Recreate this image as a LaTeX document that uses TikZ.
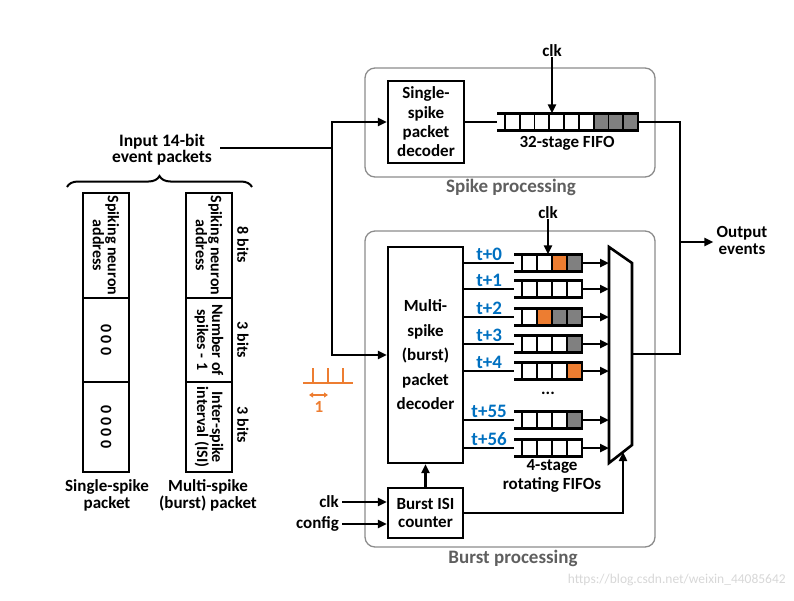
\documentclass[tikz,border=0pt]{standalone}
\usepackage{fontspec}
\setmainfont{Carlito}
\usetikzlibrary{arrows.meta,decorations.pathreplacing,calc}
\definecolor{myorange}{RGB}{237,125,49}
\definecolor{mygray}{RGB}{128,128,128}
\definecolor{myblue}{RGB}{0,112,192}
\definecolor{framegray}{RGB}{140,140,140}
\definecolor{labelgray}{RGB}{95,95,95}
\definecolor{wmgray}{RGB}{215,215,215}
\newcommand\fifo[7]{%
  \foreach \c [count=\i] in {#7}{\fill[\c] ({#3+(\i-1)*#4},{#6-8.5}) rectangle ++(#4,17);}
  \foreach \i in {0,...,#5}{\draw[line width=1.8pt] ({#3+\i*#4},{#6-8.5}) -- ++(0,17);}
  \draw[line width=2.4pt] (#2,{#6-8.5}) -- ({#3+#5*#4},{#6-8.5}) -- ({#3+#5*#4},{#6+8.5}) -- (#2,{#6+8.5});
  \node[inner sep=0pt, minimum height=17pt, minimum width={#3+#5*#4-#2}, anchor=west] (#1) at (#2,#6) {};
}
\begin{document}
\begin{tikzpicture}[x=1pt,y=-1pt,
  font=\fontsize{17}{19}\selectfont\bfseries,
  wire/.style={line width=2.4pt, black},
  arr/.style={wire, -{Triangle[length=9pt,width=8pt]}},
  blk/.style={draw, line width=2.4pt, inner sep=0pt, align=center},
  frame/.style={draw=framegray, line width=1.3pt, rounded corners=10pt, inner sep=0pt},
  lbl/.style={align=center, inner sep=0pt},
  tl/.style={text=myblue, font=\fontsize{19}{19}\selectfont\bfseries, inner sep=0pt, anchor=base},
  pk/.style={draw, line width=2.4pt, inner sep=0pt, rotate=-90, align=center, minimum height=46pt, font=\fontsize{16}{15}\selectfont\bfseries},
  bits/.style={rotate=-90, inner sep=0pt, font=\fontsize{16}{15}\selectfont\bfseries},
  ttl/.style={text=labelgray, font=\fontsize{19}{19}\selectfont\bfseries, inner sep=0pt}
]
\useasboundingbox (0,0) rectangle (794,600);

% frames
\node[frame, minimum width=290pt, minimum height=109pt] (spikeframe) at (510,122.5) {};
\node[frame, minimum width=290pt, minimum height=316pt] (burstframe) at (510,389) {};
\node[ttl] (spiketitle) at (511,187) {Spike processing};
\node[ttl] (bursttitle) at (513,558) {Burst processing};

% input and packets
\node[lbl, font=\fontsize{17.5}{16}\selectfont\bfseries] (input) at (162,150) {Input 14-bit\\event packets};
\draw[line width=2pt, decorate, decoration={brace, amplitude=11pt}] (67,187) -- (252,187);

\node[pk, minimum width=105pt] (s1) at (106,245.5) {Spiking neuron\\address};
\node[pk, minimum width=84pt] (s2) at (106,340) {0 0 0};
\node[pk, minimum width=90pt] (s3) at (106,427) {0 0 0 0};
\node[pk, minimum width=105pt] (b1) at (209,245.5) {Spiking neuron\\address};
\node[pk, minimum width=84pt] (b2) at (209,340) {Number of\\spikes - 1};
\node[pk, minimum width=90pt] (b3) at (209,427) {Inter-spike\\interval (ISI)};
\node[bits] (bits1) at (243,245) {8 bits};
\node[bits] (bits2) at (243,340) {3 bits};
\node[bits] (bits3) at (243,425) {3 bits};
\node[lbl, font=\fontsize{17}{17}\selectfont\bfseries] (slab) at (107,495) {Single-spike\\packet};
\node[lbl, font=\fontsize{17}{17}\selectfont\bfseries] (mlab) at (208,495) {Multi-spike\\(burst) packet};

% decoders
\node[blk, minimum width=76pt, minimum height=82pt, font=\fontsize{17}{19.3}\selectfont\bfseries] (ssdec) at (426,122) {Single-\\spike\\packet\\decoder};
\node[blk, minimum width=75pt, minimum height=216pt, font=\fontsize{17}{24.5}\selectfont\bfseries] (msdec) at (425.5,355) {Multi-\\spike\\(burst)\\packet\\decoder};
\node[blk, minimum width=75pt, minimum height=50pt, font=\fontsize{17}{18}\selectfont\bfseries] (isi) at (425.5,513) {Burst ISI\\counter};

% input bus
\coordinate (bus) at (332,148);
\draw[wire] ([xshift=8pt]input.east |- bus) -- (bus);
\draw[arr] (bus) |- (ssdec.west);
\draw[arr] (bus) |- (msdec.west);

% top FIFO
\fifo{topfifo}{497}{505}{14.78}{9}{122}{white,white,white,white,white,white,mygray,mygray,mygray}
\draw[wire] (ssdec.east) -- (topfifo.west);
\node[lbl] (fifolab) at (567,143) {32-stage FIFO};
\node[lbl] (clktop) at (552,51) {clk};
\draw[arr] (clktop.south) -- (clktop.south |- topfifo.north);

% burst FIFOs
\fifo{f0}{514}{522}{15}{4}{263}{white,white,myorange,mygray}
\fifo{f1}{514}{522}{15}{4}{289}{white,white,white,white}
\fifo{f2}{514}{522}{15}{4}{317}{white,myorange,mygray,mygray}
\fifo{f3}{514}{522}{15}{4}{344}{white,white,white,mygray}
\fifo{f4}{514}{522}{15}{4}{371}{white,white,white,myorange}
\fifo{f55}{514}{522}{15}{4}{420}{white,white,white,mygray}
\fifo{f56}{514}{522}{15}{4}{448}{white,white,white,white}
\foreach \n/\t in {f0/t+0,f1/t+1,f2/t+2,f3/t+3,f4/t+4,f55/t+55,f56/t+56}{
  \draw[wire] (msdec.east |- \n.west) -- (\n.west);
  \node[tl] (lab\n) at ($(msdec.east |- \n.west)!0.5!(\n.west)+(0,-2.5)$) {\t};
}
\node[lbl] (dots) at (548,393) {...};
\node[lbl] (rotlab) at (552,476) {4-stage\\rotating FIFOs};
\node[lbl] (clkb) at (548,213) {clk};
\draw[arr] (clkb.south) -- (clkb.south |- f0.north);

% mux
\coordinate (m1) at (609,247);
\coordinate (m2) at (632,263);
\coordinate (m3) at (632,445);
\coordinate (m4) at (609,463);
\draw[line width=2.6pt, line join=miter] (m1) -- (m2) -- (m3) -- (m4) -- cycle;
\foreach \n in {f0,f1,f2,f3,f4,f55,f56}{
  \draw[arr] (\n.east) -- (\n.east -| m1);
}
\coordinate (muxout) at (632,354);
\coordinate (muxsel) at (623,452);

% ISI counter
\node[lbl, anchor=east] (clkin) at (339,502) {clk};
\node[lbl, anchor=east] (cfgin) at (339,524) {config};
\draw[arr] ([xshift=3pt]clkin.east) -- (clkin.east -| isi.west);
\draw[arr] ([xshift=3pt]cfgin.east) -- (cfgin.east -| isi.west);
\draw[arr] (isi.north) -- (msdec.south);
\draw[arr] (isi.east |- 0,513) -| (muxsel);

% output bus
\coordinate (obus) at (680,122);
\coordinate (ojoin) at (680,242);
\draw[wire] (topfifo.east) -- (obus) -- (obus |- muxout) -- (muxout);
\node[lbl, font=\fontsize{17}{17}\selectfont\bfseries] (outev) at (742,240) {Output\\events};
\draw[arr] (ojoin) -- ([xshift=-3pt]outev.west |- ojoin);

% orange timing sketch
\draw[myorange, line width=2pt] (303,383) -- (353,383)
  (313,368) -- (313,383) (328,368) -- (328,383) (343,368) -- (343,383);
\draw[myorange, line width=1.6pt, {Triangle[length=4pt,width=5pt]}-{Triangle[length=4pt,width=5pt]}] (309,395) -- (328,395);
\node[lbl, text=myorange] (one) at (319,407) {1};

% watermark
\node[lbl, text=wmgray, font=\fontsize{13.5}{14}\selectfont, anchor=east] (wm) at (786,580) {https://blog.csdn.net/weixin\_44085642};
\end{tikzpicture}
\end{document}
